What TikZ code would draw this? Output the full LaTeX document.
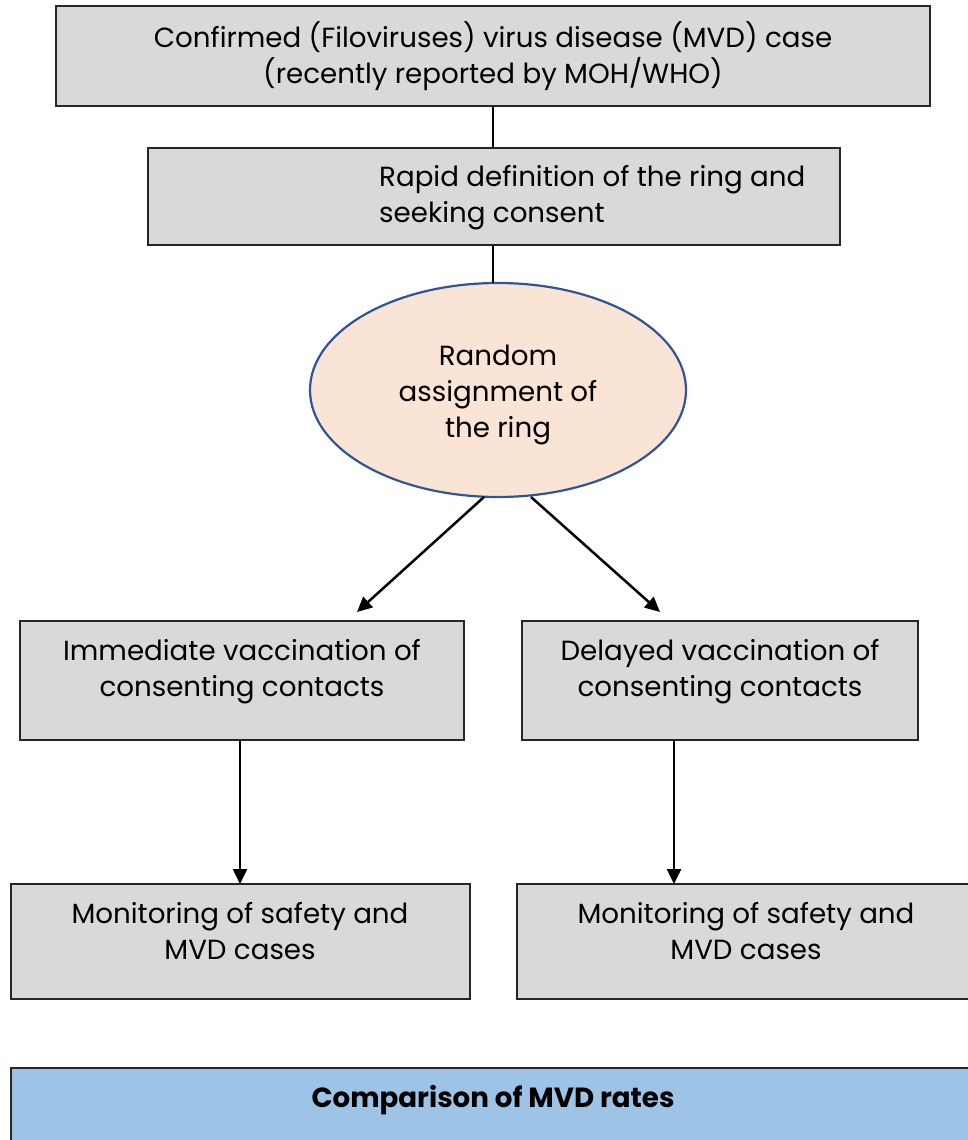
\documentclass[tikz,border=0pt]{standalone}
\usepackage{fontspec}
\setmainfont{Poppins}
\usetikzlibrary{arrows.meta,shapes.geometric}
\definecolor{boxgray}{HTML}{D9D9D9}
\definecolor{peach}{HTML}{FAE4D6}
\definecolor{ellblue}{HTML}{2F5597}
\definecolor{cmpblue}{HTML}{9DC3E6}
\tikzset{
  flowbox/.style={draw=black!85, line width=1.2pt, fill=boxgray},
  flowtext/.style={font=\fontsize{27.7}{36}\selectfont, align=center, inner sep=0pt},
  link/.style={line width=2.5pt, draw=black},
  arr/.style={line width=2.5pt, draw=black, -{Triangle[length=15pt,width=14pt]}}
}
\begin{document}
\begin{tikzpicture}[x=1pt,y=-1pt]
\useasboundingbox (0,0) rectangle (968,1140);
\clip (0,0) rectangle (968,1140);
% boxes
\draw[flowbox] (56,6) rectangle (930,106);
\node[flowtext] (t1) at (493,56) {Confirmed (Filoviruses) virus disease (MVD) case\\(recently reported by MOH/WHO)};
\coordinate (b1) at (493,106);
\draw[flowbox] (148,148) rectangle (840,245);
\node[flowtext, align=left, anchor=west] (t2) at (379,198) {Rapid definition of the ring and\\seeking consent};
\coordinate (b2t) at (493,148);
\coordinate (b2b) at (493,245);
\node[ellipse, draw=ellblue, line width=2.2pt, fill=peach, minimum width=376pt, minimum height=214pt, inner sep=0pt] (ell) at (498,390) {};
\coordinate (etop) at (493,283);
\node[flowtext] (t3) at (498,395) {Random\\assignment of\\the ring};
\draw[flowbox] (20,621) rectangle (464,740);
\node[flowtext] (t4) at (242,672) {Immediate vaccination of\\consenting contacts};
\draw[flowbox] (522,621) rectangle (918,740);
\node[flowtext] (t5) at (720,672) {Delayed vaccination of\\consenting contacts};
\draw[flowbox] (11,884) rectangle (470,999);
\node[flowtext] (t6) at (240,931) {Monitoring of safety and\\MVD cases};
\draw[flowbox] (517,884) rectangle (990,999);
\node[flowtext] (t7) at (746,931) {Monitoring of safety and\\MVD cases};
\draw[flowbox, fill=cmpblue] (11,1068) rectangle (990,1160);
\node[flowtext, font=\fontsize{27.7}{36}\selectfont\bfseries] (t8) at (493,1100) {Comparison of MVD rates};
% connectors
\coordinate (c1) at (484,497);
\coordinate (c2) at (531,497);
\coordinate (a1) at (357,612);
\coordinate (a2) at (660,612);
\coordinate (d1) at (240,740);
\coordinate (e1) at (240,884);
\coordinate (d2) at (674,740);
\coordinate (e2) at (674,884);
\draw[link] (b1) -- (b2t);
\draw[link] (b2b) -- (etop);
\draw[arr] (c1) -- (a1);
\draw[arr] (c2) -- (a2);
\draw[arr] (d1) -- (e1);
\draw[arr] (d2) -- (e2);
\end{tikzpicture}
\end{document}
